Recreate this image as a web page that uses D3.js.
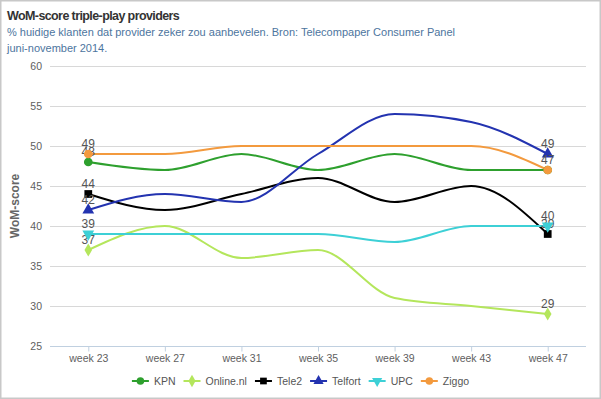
<!DOCTYPE html>
<meta charset="utf-8">
<style>
body { margin: 0; background: #fff; }
svg { font-family: Arial, "Liberation Sans", sans-serif; display: block; }
.grid line { stroke: #d8d8d8; stroke-width: 1; }
.tick text { fill: #606060; font-size: 10.5px; }
</style>
<svg width="601" height="399"></svg>
<script src="https://d3js.org/d3.v7.min.js"></script>
<script>
// categories
const weeks = ["week 23", "week 27", "week 31", "week 35", "week 39", "week 43", "week 47"];
const yTicks = [25, 30, 35, 40, 45, 50, 55, 60];

// series values
const kpn     = [48, 47, 49, 47, 49, 47, 47];
const online  = [37, 40, 36, 37, 31, 30, 29];
const tele2   = [44, 42, 44, 46, 43, 45, 39];
const telfort = [42, 44, 43, 49, 54, 53, 49];
const upc     = [39, 39, 39, 39, 38, 40, 40];
const ziggo   = [49, 49, 50, 50, 50, 50, 47];

const series = [
  {name: "KPN", values: kpn, color: "#2ea02e", symbol: d3.symbolCircle},
  {name: "Online.nl", values: online, color: "#b4e65c", symbol: d3.symbolDiamond},
  {name: "Tele2", values: tele2, color: "#000000", symbol: d3.symbolSquare},
  {name: "Telfort", values: telfort, color: "#2333b0", symbol: d3.symbolTriangle},
  {name: "UPC", values: upc, color: "#3dd0d6", symbol: "down"},
  {name: "Ziggo", values: ziggo, color: "#f39a3e", symbol: d3.symbolCircle}
];
// labels drawn at first/last point (Ziggo 47 hides KPN 47 at the end)
const hiddenLast = ["KPN"];

const svg = d3.select("svg");
const W = 601, H = 399;
const plotL = 50, plotR = 586, plotT = 66, plotB = 346;

svg.append("rect").attr("x", 0.5).attr("y", 0.5).attr("width", W - 1).attr("height", H - 1)
  .attr("fill", "#fff").attr("stroke", "#c8c8c8").attr("stroke-width", 2);

svg.append("text").attr("x", 7).attr("y", 20).text("WoM-score triple-play providers")
  .attr("font-size", "12.5px").attr("font-weight", "bold").attr("letter-spacing", "-0.6px")
  .attr("fill", "#333");
svg.append("text").attr("x", 7).attr("y", 36)
  .text("% huidige klanten dat provider zeker zou aanbevelen. Bron: Telecompaper Consumer Panel")
  .attr("font-size", "11px").attr("fill", "#4d759e");
svg.append("text").attr("x", 7).attr("y", 52).text("juni-november 2014.")
  .attr("font-size", "11px").attr("fill", "#4d759e");

const x = d3.scalePoint().domain(weeks).range([plotL, plotR]).padding(0.5);
const y = d3.scaleLinear().domain([25, 60]).range([plotB, plotT]);

// gridlines
svg.append("g").attr("class", "grid").selectAll("line").data(yTicks.slice(1)).join("line")
  .attr("x1", plotL).attr("x2", plotR)
  .attr("y1", d => Math.round(y(d)) + 0.5).attr("y2", d => Math.round(y(d)) + 0.5);

// y axis labels
svg.append("g").attr("transform", `translate(${plotL - 4},0)`)
  .call(d3.axisLeft(y).tickValues(yTicks).tickSize(0).tickPadding(4))
  .call(g => g.select(".domain").remove());

svg.append("text").attr("transform", `translate(19,${(plotT + plotB) / 2}) rotate(-90)`)
  .attr("text-anchor", "middle").text("WoM-score")
  .attr("font-size", "12px").attr("font-weight", "bold").attr("fill", "#666");

// x axis
svg.append("g").attr("transform", `translate(0,${plotB + 0.5})`)
  .call(d3.axisBottom(x).tickSize(5).tickPadding(3))
  .call(g => g.select(".domain").attr("stroke", "#c0d0e0").attr("d", `M${plotL},0H${plotR}`))
  .call(g => g.selectAll(".tick line").attr("stroke", "#c0d0e0"));

const line = d3.line().x((d, i) => x(weeks[i])).y(d => y(d)).curve(d3.curveMonotoneX);

function marker(g, s, size) {
  if (s.symbol === "down") {
    g.append("path").attr("d", d3.symbol(d3.symbolTriangle, size)()).attr("transform", "rotate(180)").attr("fill", s.color);
  } else {
    g.append("path").attr("d", d3.symbol(s.symbol, size)()).attr("fill", s.color);
  }
}

series.forEach(s => {
  svg.append("path").datum(s.values).attr("d", line)
    .attr("fill", "none").attr("stroke", s.color).attr("stroke-width", 2);
});

series.forEach(s => {
  const n = s.values.length;
  [0, n - 1].forEach(i => {
    const g = svg.append("g").attr("transform", `translate(${x(weeks[i])},${y(s.values[i])})`);
    marker(g, s, s.symbol === d3.symbolDiamond ? 50 : 60);
    if (i === n - 1 && hiddenLast.includes(s.name)) return;
    svg.append("text").attr("x", x(weeks[i])).attr("y", y(s.values[i]) - 6)
      .attr("text-anchor", "middle").attr("font-size", "12px").attr("fill", "#555")
      .text(s.values[i]);
  });
});

// legend
const legend = svg.append("g").attr("transform", `translate(0,381)`);
const items = [];
series.forEach(s => {
  const g = legend.append("g");
  g.append("line").attr("x1", 0).attr("x2", 17).attr("stroke", s.color).attr("stroke-width", 2);
  marker(g.append("g").attr("transform", "translate(8.5,0)"), s, 45);
  const t = g.append("text").attr("x", 22).attr("dy", "0.35em").attr("font-size", "10.5px")
    .attr("fill", "#555").text(s.name);
  items.push({g, w: 22 + t.node().getComputedTextLength()});
});
const gap = 8;
const total = d3.sum(items, d => d.w) + gap * (items.length - 1);
let lx = (W - total) / 2;
items.forEach(it => { it.g.attr("transform", `translate(${lx},0)`); lx += it.w + gap; });
</script>
